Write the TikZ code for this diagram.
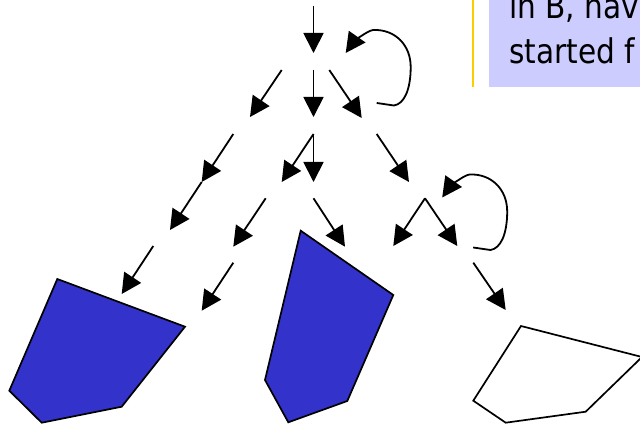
\documentclass[tikz,border=0pt]{standalone}
\usepackage{fontspec}
\setmainfont{DejaVu Sans}[FakeStretch=0.87]
\usetikzlibrary{arrows.meta}
\definecolor{boxblue}{RGB}{204,204,255}
\definecolor{polyblue}{RGB}{51,51,204}
\definecolor{bargold}{RGB}{255,204,0}
\begin{document}
\begin{tikzpicture}[x=1pt,y=-1pt,
  arr/.style={line width=1.8pt, -{Triangle[length=20pt,width=20pt]}},
  poly/.style={line width=1.7pt, line join=miter, draw=black},
  lbl/.style={anchor=base west, inner sep=0pt, font=\fontsize{34}{40}\selectfont}]
\useasboundingbox (0,0) rectangle (640,425);
\clip (0,0) rectangle (640,425);
% note box
\fill[boxblue] (489.3,-5) rectangle (650,87);
\draw[bargold, line width=2pt] (473.3,-5) -- (473.3,87);
\node[lbl] (t1) at (509,19) {in B, hav};
\node[lbl] (t2) at (509,63.3) {started f};
% arrow grid points
\coordinate (a0) at (313.5,6);
\coordinate (b0) at (313.5,53);
\coordinate (a1) at (281.7,70);   \coordinate (b1) at (250,117);
\coordinate (a2) at (313.5,70);   \coordinate (b2) at (313.5,117);
\coordinate (a3) at (329.3,70);   \coordinate (b3) at (361.7,118);
\coordinate (a4) at (233.3,134);  \coordinate (b4) at (201.7,182);
\coordinate (b5) at (170,230);
\coordinate (a6) at (313.5,134);  \coordinate (b6) at (281.7,182);
\coordinate (b7) at (313.5,182);
\coordinate (a8) at (376.7,134);  \coordinate (b8) at (409,182);
\coordinate (a9) at (265.7,198.3);  \coordinate (b9) at (233.3,246.7);
\coordinate (a10) at (313.5,198.3); \coordinate (b10) at (345,246.7);
\coordinate (a11) at (425,198.3);   \coordinate (b11) at (393.3,246);
\coordinate (b12) at (457.3,246);
\coordinate (a13) at (153.3,246);   \coordinate (b13) at (121.7,294);
\coordinate (a14) at (233.3,262.7); \coordinate (b14) at (201.7,310.7);
\coordinate (a15) at (473.3,262.7); \coordinate (b15) at (505.7,310);
% loops
\coordinate (l1s) at (376.7,103);
\coordinate (l1e) at (345.7,53);
\coordinate (l2s) at (473.2,247.5);
\coordinate (l2e) at (442.2,197.5);
% arrows
\draw[arr] (a0) -- (b0);
\draw[arr] (a1) -- (b1);
\draw[arr] (a2) -- (b2);
\draw[arr] (a3) -- (b3);
\draw[arr] (a4) -- (b4);
\draw[arr] (b4) -- (b5);
\draw[arr] (a6) -- (b6);
\draw[arr] (a6) -- (b7);
\draw[arr] (a8) -- (b8);
\draw[arr] (a9) -- (b9);
\draw[arr] (a10) -- (b10);
\draw[arr] (a11) -- (b11);
\draw[arr] (a11) -- (b12);
\draw[arr] (a13) -- (b13);
\draw[arr] (a14) -- (b14);
\draw[arr] (a15) -- (b15);
\draw[arr] (l1s) -- (394,105.5) .. controls (404,104) and (410.7,90) .. (410.7,67)
  .. controls (410.7,45) and (395,29) .. (373,30)
  .. controls (366,31) and (352,44) .. (l1e);
\draw[arr] (l2s) -- (490.5,250) .. controls (500.5,248.5) and (507.2,234.5) .. (507.2,211.5)
  .. controls (507.2,189.5) and (491.5,173.5) .. (469.5,174.5)
  .. controls (462.5,175.5) and (448.5,188.5) .. (l2e);
% polygons
\draw[poly, fill=polyblue] (57.3,279) -- (185,326.7) -- (121.7,406.7) -- (41.7,422.7) -- (9.3,390.7) -- cycle;
\draw[poly, fill=polyblue] (300.7,230.7) -- (393.3,295) -- (347.3,401) -- (288.3,422.3) -- (265,380) -- cycle;
\draw[poly, fill=white] (521,326) -- (642,357) -- (585.7,411.7) -- (505.7,422.7) -- (473.3,400.7) -- cycle;
\end{tikzpicture}
\end{document}
